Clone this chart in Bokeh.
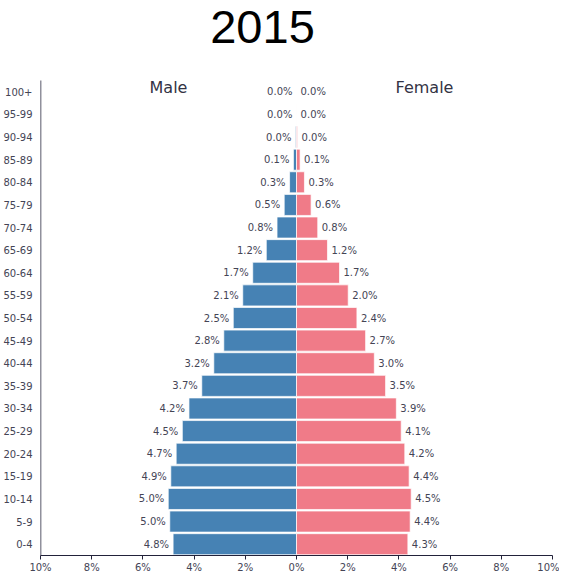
from bokeh.plotting import figure
from bokeh.models import Range1d, FixedTicker, Label, ColumnDataSource
from bokeh.core.properties import value
from bokeh.embed import file_html
from bokeh.resources import INLINE

# ---- data ----
title_text = "2015"
age_groups = ["0-4", "5-9", "10-14", "15-19", "20-24", "25-29", "30-34", "35-39",
              "40-44", "45-49", "50-54", "55-59", "60-64", "65-69", "70-74",
              "75-79", "80-84", "85-89", "90-94", "95-99", "100+"]
male = [4.82, 4.95, 5.01, 4.91, 4.70, 4.46, 4.20, 3.70, 3.23, 2.84, 2.47, 2.10,
        1.71, 1.18, 0.76, 0.48, 0.27, 0.12, 0.04, 0.004, 0.0]
female = [4.35, 4.44, 4.48, 4.40, 4.23, 4.09, 3.90, 3.48, 3.04, 2.70, 2.36, 2.02,
          1.68, 1.21, 0.83, 0.57, 0.31, 0.14, 0.04, 0.004, 0.0]
x_ticks = [-10, -8, -6, -4, -2, 0, 2, 4, 6, 8, 10]
x_max = 10

MALE_COLOR = "#4682b4"
FEMALE_COLOR = "#f07b88"
AXIS_COLOR = "#22223a"
TEXT_COLOR = "#444455"
FONT = "DejaVu Sans"

# ---- layout constants (pixels) ----
FRAME_W = 512
FRAME_H = 555          # frame also holds the title strip at its top
HEADER_PX = 80         # height of the title strip inside the frame
n = len(age_groups)
row_px = (FRAME_H - HEADER_PX) / n
px_per_unit = FRAME_W / (2 * x_max)
y_top = (n - 0.5) + HEADER_PX / row_px

idx = list(range(n))
male_src = ColumnDataSource(dict(y=idx, x=[-v for v in male],
                                 lab=[f"{v:.1f}%" for v in male]))
female_src = ColumnDataSource(dict(y=idx, x=female,
                                   lab=[f"{v:.1f}%" for v in female]))

p = figure(frame_width=FRAME_W, frame_height=FRAME_H,
           x_range=Range1d(-x_max, x_max), y_range=Range1d(-0.5, y_top),
           toolbar_location=None, output_backend="svg",
           min_border_left=32, min_border_right=7, min_border_top=0,
           min_border_bottom=5)
p.xgrid.visible = False
p.ygrid.visible = False
p.outline_line_color = None
p.background_fill_color = "white"
p.border_fill_color = "white"

ax = p.xaxis[0]
ax.ticker = FixedTicker(ticks=x_ticks)
ax.major_label_overrides = {t: f"{abs(t)}%" for t in x_ticks}
ax.axis_line_color = AXIS_COLOR
ax.major_tick_line_color = AXIS_COLOR
ax.major_tick_out = 4
ax.major_tick_in = 0
ax.minor_tick_line_color = None
ax.major_label_standoff = 2
ax.major_label_text_font = FONT
ax.major_label_text_font_size = "10px"
ax.major_label_text_color = TEXT_COLOR

yax = p.yaxis[0]
yax.ticker = FixedTicker(ticks=idx)
yax.major_label_overrides = {i: g for i, g in zip(idx, age_groups)}
yax.axis_line_color = None
yax.major_tick_line_color = None
yax.minor_tick_line_color = None
yax.major_label_standoff = 2
yax.major_label_text_font = FONT
yax.major_label_text_font_size = "10px"
yax.major_label_text_color = TEXT_COLOR

# y axis line limited to the category band
p.segment(x0=[-x_max], y0=[-0.5], x1=[-x_max], y1=[n - 0.5],
          line_color=AXIS_COLOR, line_width=1.5)

# male bars (left side)
p.hbar(y="y", left="x", right=0, height=0.93, source=male_src,
       fill_color=MALE_COLOR, line_color="white", line_width=1, line_alpha=0.7)
p.text(x="x", y="y", text="lab", source=male_src, x_offset=-4,
       text_align="right", text_baseline="middle", text_font=value(FONT),
       text_font_size="10px", text_color=TEXT_COLOR)
# female bars (right side)
p.hbar(y="y", left=0, right="x", height=0.93, source=female_src,
       fill_color=FEMALE_COLOR, line_color="white", line_width=1, line_alpha=0.7)
p.text(x="x", y="y", text="lab", source=female_src, x_offset=4,
       text_align="left", text_baseline="middle", text_font=value(FONT),
       text_font_size="10px", text_color=TEXT_COLOR)

# side headings
head_y = (n - 1) + 4 / row_px
p.add_layout(Label(x=-x_max / 2, y=head_y, text="Male", text_align="center",
                   text_baseline="middle", text_font=FONT, text_font_size="16px",
                   text_color="#333344"))
p.add_layout(Label(x=x_max / 2, y=head_y, text="Female", text_align="center",
                   text_baseline="middle", text_font=FONT, text_font_size="16px",
                   text_color="#333344"))

# main title in the strip above the bars
title_y = y_top - 26 / row_px
title_x = -x_max + 222 / px_per_unit
p.text(x=[title_x], y=[title_y], text=[title_text], text_align="center",
       text_baseline="alphabetic", text_font=value("Liberation Sans"),
       text_font_size="47px", text_color="black")

open("out.html", "w").write(file_html(p, INLINE))
